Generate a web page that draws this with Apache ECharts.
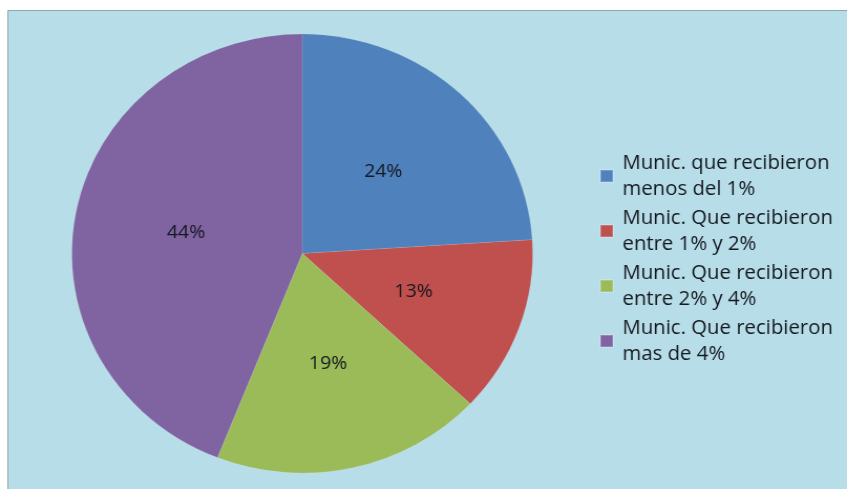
<!DOCTYPE html>
<html>
<head>
<meta charset="utf-8">
<script src="https://cdn.jsdelivr.net/npm/echarts@6/dist/echarts.min.js"></script>
<style>
  html, body { margin: 0; padding: 0; background: #ffffff; overflow: hidden; }
  #wrap { width: 847px; height: 489px; overflow: hidden; position: relative; }
  /* the chart is laid out slightly narrower and stretched to the full width */
  #chart { width: 807px; height: 489px; transform: scaleX(1.0496); transform-origin: 0 0; }
</style>
</head>
<body>
<div id="wrap"><div id="chart"></div></div>
<script>
// Share of municipalities by percentage received
const categories = [
  'Munic. que recibieron\nmenos del 1%',
  'Munic. Que recibieron\nentre 1% y 2%',
  'Munic. Que recibieron\nentre 2% y 4%',
  'Munic. Que recibieron\nmas de 4%'
];
const shares = [24, 13, 19, 44];
const sliceColors = ['#4f81bd', '#c0504d', '#9bbb59', '#8064a2'];

const chart = echarts.init(document.getElementById('chart'), null, { renderer: 'canvas' });

const FONT = '"Open Sans", Lato, sans-serif';

chart.setOption({
  animation: false,
  backgroundColor: '#ffffff',
  color: sliceColors,
  graphic: [{
    type: 'rect',
    z: -10,
    shape: { x: 7.5, y: 10.5, width: 900, height: 600 },
    style: { fill: '#b7dde8', stroke: '#8aa7ab', lineWidth: 1 }
  }],
  legend: {
    orient: 'vertical',
    left: 571,
    top: 150,
    padding: 0,
    itemGap: 3,
    itemWidth: 12,
    itemHeight: 12,
    icon: 'rect',
    data: categories,
    textStyle: {
      fontFamily: FONT,
      fontSize: 19.4,
      lineHeight: 26,
      color: '#14181f',
      padding: [0, 0, 0, 4]
    }
  },
  series: [{
    type: 'pie',
    center: [288, 253.5],
    radius: [0, 219.5],
    startAngle: 90,
    clockwise: true,
    avoidLabelOverlap: false,
    emphasis: { disabled: true },
    itemStyle: { borderColor: 'rgba(255,255,255,0.2)', borderWidth: 0.5 },
    label: {
      show: true,
      position: 'inside',
      formatter: '{d}%',
      fontFamily: FONT,
      fontSize: 18.5,
      color: '#14181f'
    },
    labelLine: { show: false },
    data: categories.map((name, i) => ({ name: name, value: shares[i] }))
  }]
});
</script>
</body>
</html>
